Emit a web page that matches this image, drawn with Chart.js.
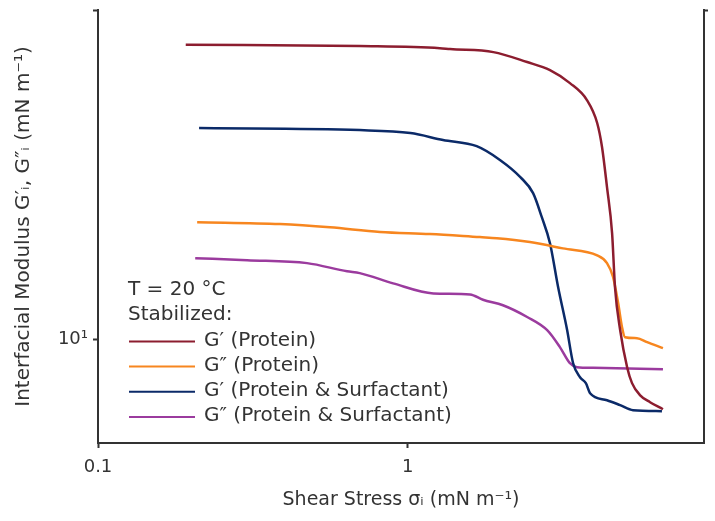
<!DOCTYPE html>
<html>
<head>
<meta charset="utf-8">
<script src="https://cdn.jsdelivr.net/npm/chart.js@4"></script>
<style>
  body { margin: 0; background: #fff; }
</style>
</head>
<body>
<canvas id="chart" width="715" height="521"></canvas>
<script>
// shear stress (mN/m) and moduli (mN/m)
const protG1X = [0.192, 0.70, 1.27, 1.37, 1.89, 2.43, 2.88, 3.34, 3.79, 4.09, 4.24, 4.40, 4.57, 4.67, 4.85, 5.11, 5.30, 5.62, 6.06, 6.67];
const protG1Y = [78.5, 77.7, 76.6, 76.1, 74.5, 69.5, 65.7, 60.0, 53.3, 45.4, 38.4, 29.0, 21.0, 14.4, 10.7, 8.24, 7.37, 6.78, 6.45, 6.14];

const protG2X = [0.209, 0.387, 0.561, 0.814, 1.18, 1.71, 1.94, 2.48, 3.17, 4.09, 4.40, 4.60, 4.78, 4.92, 5.03, 5.50, 5.93, 6.67];
const protG2Y = [22.7, 22.4, 21.9, 21.2, 20.9, 20.45, 20.3, 19.75, 18.9, 18.0, 17.05, 15.5, 12.9, 10.9, 10.16, 10.09, 9.81, 9.41];

const surfG1X = [0.212, 0.70, 1.02, 1.30, 1.67, 1.99, 2.31, 2.54, 2.71, 2.88, 3.06, 3.27, 3.42, 3.60, 3.76, 3.88, 4.40, 4.85, 5.34, 6.62];
const surfG1Y = [43.8, 43.2, 42.3, 40.3, 38.6, 35.0, 31.1, 27.8, 23.5, 19.6, 14.4, 10.7, 8.47, 7.68, 7.37, 6.87, 6.54, 6.32, 6.10, 6.06];

const surfG2X = [0.206, 0.303, 0.473, 0.637, 0.70, 0.897, 1.21, 1.59, 1.75, 2.03, 2.43, 2.82, 3.10, 3.34, 3.52, 3.97, 6.67];
const surfG2Y = [17.65, 17.4, 17.05, 16.1, 15.9, 14.8, 13.8, 13.7, 13.2, 12.7, 11.7, 10.67, 9.48, 8.47, 8.24, 8.2, 8.12];

const seriesLabels = ['G′ (Protein)', 'G″ (Protein)', 'G′ (Protein & Surfactant)', 'G″ (Protein & Surfactant)'];
const seriesColors = ['#8c1d2f', '#f7861f', '#0b2a68', '#9b3b9e'];

const xTicks = [0.1, 1];
const yTicks = [10, 100];

const FONT = 'DejaVu Sans';
const TEXT = '#333333';

function pts(xs, ys) {
    return xs.map((x, i) => ({ x: x, y: ys[i] }));
}

// keep the plot box fixed: no extra room for end labels
function noEndPad(s) {
    s.paddingTop = 0;
    s.paddingBottom = 0;
}

const legendBlock = {
    id: 'legendBlock',
    afterDraw(chart) {
        const ctx = chart.ctx;
        const a = chart.chartArea;
        const x0 = a.left + 30;
        let y = a.top + 280;
        const step = 25.2;
        ctx.save();
        ctx.font = '20px "' + FONT + '"';
        ctx.fillStyle = TEXT;
        ctx.textBaseline = 'middle';
        ctx.fillText('T = 20 °C', x0, y);
        y += step;
        ctx.fillText('Stabilized:', x0, y);
        chart.data.datasets.forEach(ds => {
            y += step;
            ctx.strokeStyle = ds.borderColor;
            ctx.lineWidth = 2;
            ctx.beginPath();
            ctx.moveTo(x0 + 1, y + 1);
            ctx.lineTo(x0 + 67, y + 1);
            ctx.stroke();
            ctx.fillText(ds.label, x0 + 76, y);
        });
        ctx.restore();
    }
};

new Chart(document.getElementById('chart').getContext('2d'), {
    type: 'line',
    data: {
        datasets: [
            { label: seriesLabels[0], data: pts(protG1X, protG1Y), borderColor: seriesColors[0] },
            { label: seriesLabels[1], data: pts(protG2X, protG2Y), borderColor: seriesColors[1] },
            { label: seriesLabels[2], data: pts(surfG1X, surfG1Y), borderColor: seriesColors[2] },
            { label: seriesLabels[3], data: pts(surfG2X, surfG2Y), borderColor: seriesColors[3] }
        ]
    },
    options: {
        responsive: false,
        animation: false,
        layout: { padding: { top: 10, right: 0, left: 0, bottom: 0 } },
        elements: {
            point: { radius: 0 },
            line: { borderWidth: 2.5, cubicInterpolationMode: 'monotone', fill: false }
        },
        plugins: {
            legend: { display: false },
            tooltip: { enabled: false }
        },
        scales: {
            x: {
                type: 'logarithmic',
                min: 0.1,
                max: 9.05,
                afterBuildTicks: s => { s.ticks = xTicks.map(v => ({ value: v })); },
                afterFit: s => { s.height = 78; s.paddingLeft = 0; s.paddingRight = 0; },
                ticks: {
                    color: TEXT,
                    font: { family: FONT, size: 18 },
                    padding: 9,
                    maxRotation: 0,
                    callback: v => String(v)
                },
                grid: { drawOnChartArea: false, tickLength: 5, tickColor: '#333', tickWidth: 2 },
                border: { color: '#333', width: 2 },
                title: {
                    display: true,
                    text: 'Shear Stress σᵢ (mN m⁻¹)',
                    color: TEXT,
                    font: { family: FONT, size: 19 },
                    padding: { top: 10, bottom: 10 }
                }
            },
            y: {
                type: 'logarithmic',
                min: 4.85,
                max: 100,
                afterBuildTicks: s => { s.ticks = yTicks.map(v => ({ value: v })); },
                afterFit: s => { s.width = 98; noEndPad(s); },
                ticks: {
                    color: TEXT,
                    font: { family: FONT, size: 18 },
                    padding: 5,
                    callback: v => (v === 10 ? '10¹' : '')
                },
                grid: { drawOnChartArea: false, tickLength: 5, tickColor: '#333', tickWidth: 2 },
                border: { color: '#333', width: 2 },
                title: {
                    display: true,
                    text: 'Interfacial Modulus G′ᵢ, G″ᵢ (mN m⁻¹)',
                    color: TEXT,
                    font: { family: FONT, size: 20 },
                    padding: { top: 12, bottom: 0 }
                }
            },
            yRight: {
                type: 'logarithmic',
                position: 'right',
                min: 4.85,
                max: 100,
                afterBuildTicks: s => { s.ticks = [{ value: yTicks[1] }]; },
                afterFit: s => { s.width = 11; noEndPad(s); },
                ticks: { display: false },
                grid: { drawOnChartArea: false, tickLength: 4, tickColor: '#333', tickWidth: 2 },
                border: { color: '#333', width: 2 }
            }
        }
    },
    plugins: [legendBlock]
});
</script>
</body>
</html>
